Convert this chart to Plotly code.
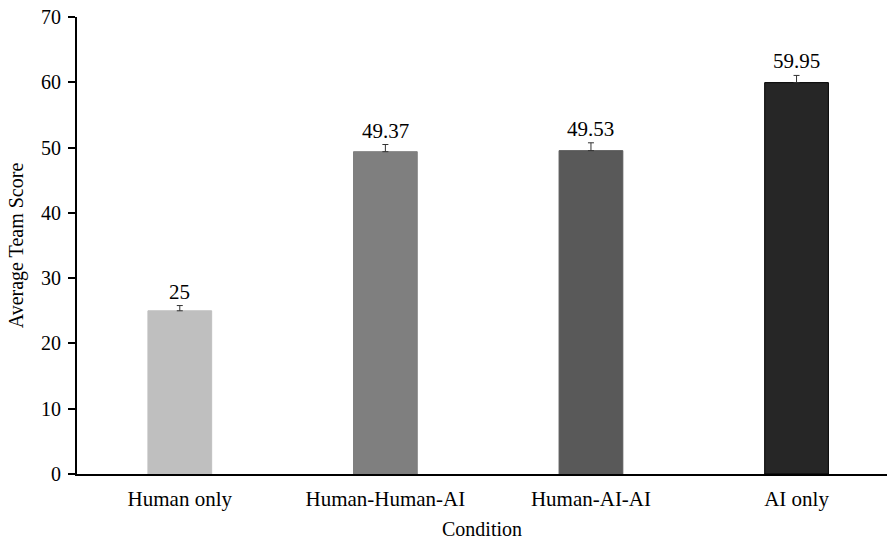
import plotly.graph_objects as go

conditions = ['Human only', 'Human-Human-AI', 'Human-AI-AI', 'AI only']
scores = [25, 49.37, 49.53, 59.95]
errors = [0.8, 1.1, 1.2, 1.1]
labels = ['25', '49.37', '49.53', '59.95']
colors = ['#bfbfbf', '#7f7f7f', '#595959', '#262626']

FONT = 'Liberation Serif, Times New Roman, serif'

fig = go.Figure()
fig.add_trace(go.Bar(
    x=conditions,
    y=scores,
    width=0.31,
    marker=dict(color=colors, line=dict(color=['#bfbfbf', '#7f7f7f', '#595959', '#000000'], width=1)),
    error_y=dict(type='data', array=errors, arrayminus=[0] * 4, symmetric=False,
                 color='#333333', thickness=1, width=3),
    hoverinfo='skip',
))

# value labels sit just above the error bar caps
for c, s, e, t in zip(conditions, scores, errors, labels):
    fig.add_annotation(x=c, y=s + e, text=t, showarrow=False, yanchor='bottom',
                       yshift=0, font=dict(size=21, color='black', family=FONT))

fig.update_layout(
    width=887, height=547,
    paper_bgcolor='white', plot_bgcolor='white',
    margin=dict(l=77, r=0, t=17, b=73),
    font=dict(family=FONT, size=20, color='black'),
    showlegend=False,
)
fig.update_xaxes(
    range=[-0.5, 3.44],
    showline=True, linecolor='black', linewidth=2,
    ticks='', showgrid=False, automargin=False,
    ticklabelstandoff=5,
    title=dict(text='Condition', font=dict(size=20), standoff=12),
    tickfont=dict(size=21),
)
fig.update_yaxes(
    range=[0, 70], dtick=10,
    showline=True, linecolor='black', linewidth=2,
    ticks='outside', ticklen=7, tickwidth=2, tickcolor='black',
    showgrid=False, zeroline=False, automargin=False,
    ticklabelstandoff=3,
    title=dict(text='Average Team Score', font=dict(size=20), standoff=12),
    tickfont=dict(size=20),
)

# drop the default body margin so the figure sits at the window's corner
fig.write_html('out.html', config={'displayModeBar': False},
               post_script="document.body.style.margin='0';")
